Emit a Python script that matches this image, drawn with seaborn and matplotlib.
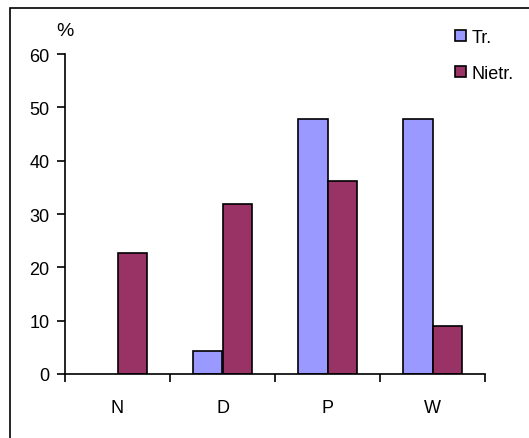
import numpy as np
import pandas as pd
import matplotlib
matplotlib.use("Agg")
import matplotlib.pyplot as plt
import seaborn as sns
from matplotlib.patches import Rectangle, Patch

categories = ["N", "D", "P", "W"]
tr_values = [0, 4.3, 47.8, 47.8]
nietr_values = [22.7, 31.8, 36.2, 9.0]
series_names = ["Tr.", "Nietr."]
colors = ["#9999FF", "#993366"]

df = pd.DataFrame({
    "cat": categories * 2,
    "val": tr_values + nietr_values,
    "series": [series_names[0]] * 4 + [series_names[1]] * 4,
})

sns.set_style("white", {"xtick.bottom": True, "ytick.left": True,
                        "text.color": "black", "xtick.color": "black", "ytick.color": "black"})
plt.rcParams["font.family"] = ["Liberation Sans", "DejaVu Sans"]
fs = 13

fig = plt.figure(figsize=(5.29, 4.39), dpi=100)
ax = fig.add_axes([65 / 529, 1 - 375 / 439, 420 / 529, 320 / 439])

sns.barplot(data=df, x="cat", y="val", hue="series", order=categories,
            hue_order=series_names, palette=colors, width=0.57, gap=0,
            edgecolor="black", linewidth=1.2, saturation=1, legend=False, ax=ax)

# empty bars (value 0) have no visible outline
for p in ax.patches:
    if p.get_height() == 0:
        p.set_linewidth(0)

ax.set_xlim(-0.5, 3.5)
ax.set_ylim(0, 60)
ax.set_yticks(np.arange(0, 61, 10))
ax.set_xlabel("")
ax.set_ylabel("")
for s in ["top", "right"]:
    ax.spines[s].set_visible(False)
for s in ["left", "bottom"]:
    ax.spines[s].set_color("black")
    ax.spines[s].set_linewidth(1.2)

# boundary ticks between categories, labels centered without ticks
ax.set_xticks(np.arange(-0.5, 4, 1))
ax.set_xticklabels([])
ax.set_xticks(range(len(categories)), minor=True)
ax.set_xticklabels(categories, minor=True)
ax.tick_params(axis="x", which="major", bottom=True, direction="out", length=6, width=1.2, color="black")
ax.tick_params(axis="x", which="minor", length=0, pad=18, labelsize=fs, labelcolor="black")
ax.tick_params(axis="y", left=True, direction="out", length=6, width=1.2, color="black",
               labelsize=fs, labelcolor="black", pad=5)

fig.text(65 / 529, 1 - 32 / 439, "%", fontsize=fs + 1, ha="center", va="center", color="black")

handles = [Patch(facecolor=c, edgecolor="black", linewidth=1.2) for c in colors]
fig.legend(handles, series_names, loc="upper left", bbox_to_anchor=(455 / 529, 1 - 30 / 439),
           frameon=False, handlelength=0.6, handleheight=0.6, handletextpad=0.3,
           labelspacing=1.05, fontsize=fs, borderaxespad=0, borderpad=0, labelcolor="black")

fig.patches.append(Rectangle((10 / 529, -0.1), 1.2, 1 - 9 / 439 + 0.1, transform=fig.transFigure,
                             fill=False, edgecolor="black", linewidth=1.2))

fig.savefig("out.png", dpi=100)
